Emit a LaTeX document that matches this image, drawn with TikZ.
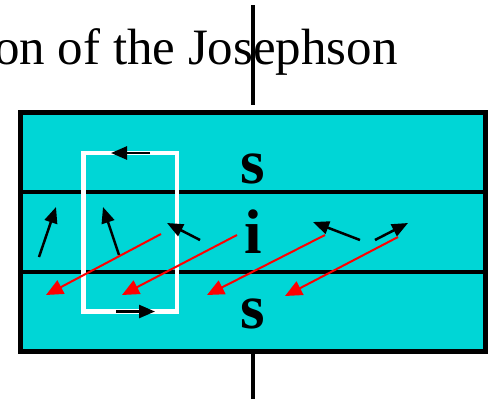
\documentclass[tikz,border=0pt]{standalone}
\usepackage{fontspec}
\setmainfont{Liberation Serif}
\usetikzlibrary{arrows.meta}
\definecolor{jcyan}{HTML}{00D6D6}
\tikzset{
  blk/.style={line width=2.5pt, -{Triangle[length=16pt,width=13pt]}},
  redarr/.style={red, line width=2pt, -{Triangle[length=17pt,width=15pt]}},
  bar/.style={line width=4pt},
  lbl/.style={font=\fontsize{63}{70}\selectfont\bfseries, inner sep=0pt, anchor=base}
}
\begin{document}
\begin{tikzpicture}[x=1pt,y=-1pt]
\useasboundingbox (0,0) rectangle (494,399);
% title
\node[font=\fontsize{51}{60}\selectfont, inner sep=0pt, anchor=base east] (title) at (398,64) {on of the Josephson};
% main box
\node[draw, fill=jcyan, line width=5pt, minimum width=465pt, minimum height=239pt, inner sep=0pt] (box) at (253,232) {};
% layer boundaries
\coordinate (l1a) at (20.5,192); \coordinate (l1b) at (485.5,192);
\coordinate (l2a) at (20.5,272); \coordinate (l2b) at (485.5,272);
\draw[bar] (l1a) -- (l1b);
\draw[bar] (l2a) -- (l2b);
% vertical line
\coordinate (vt1) at (253,5); \coordinate (vt2) at (253,105);
\coordinate (vb1) at (253,352); \coordinate (vb2) at (253,399);
\draw[bar] (vt1) -- (vt2);
\draw[bar] (vb1) -- (vb2);
% white loop
\node[draw=white, line width=4.5pt, minimum width=93.5pt, minimum height=158.5pt, inner sep=0pt] (loop) at (130.25,232.25) {};
% labels
\node[lbl] (s1) at (253,183) {s};
\node[lbl] (i) at (253,253) {i};
\node[lbl] (s2) at (253,328) {s};
% loop arrows
\coordinate (ta) at (150,153); \coordinate (tb) at (111,153);
\coordinate (ba) at (116,311.5); \coordinate (bb) at (155,311.5);
\draw[blk] (ta) -- (tb);
\draw[blk] (ba) -- (bb);
% black arrows in i layer
\coordinate (a1) at (39,257); \coordinate (a1t) at (56,207);
\coordinate (a2) at (119,255); \coordinate (a2t) at (103,207);
\coordinate (a3) at (200,240); \coordinate (a3t) at (167,223);
\coordinate (a4) at (360,240); \coordinate (a4t) at (313,222);
\coordinate (a5) at (375,240); \coordinate (a5t) at (408,223);
\draw[blk] (a1) -- (a1t);
\draw[blk] (a2) -- (a2t);
\draw[blk] (a3) -- (a3t);
\draw[blk] (a4) -- (a4t);
\draw[blk] (a5) -- (a5t);
% red arrows
\coordinate (r1) at (161,234); \coordinate (r1t) at (46,295);
\coordinate (r2) at (237,235); \coordinate (r2t) at (122,295);
\coordinate (r3) at (325,235); \coordinate (r3t) at (207,295);
\coordinate (r4) at (398,237); \coordinate (r4t) at (285,296);
\draw[redarr] (r1) -- (r1t);
\draw[redarr] (r2) -- (r2t);
\draw[redarr] (r3) -- (r3t);
\draw[redarr] (r4) -- (r4t);
\end{tikzpicture}
\end{document}
